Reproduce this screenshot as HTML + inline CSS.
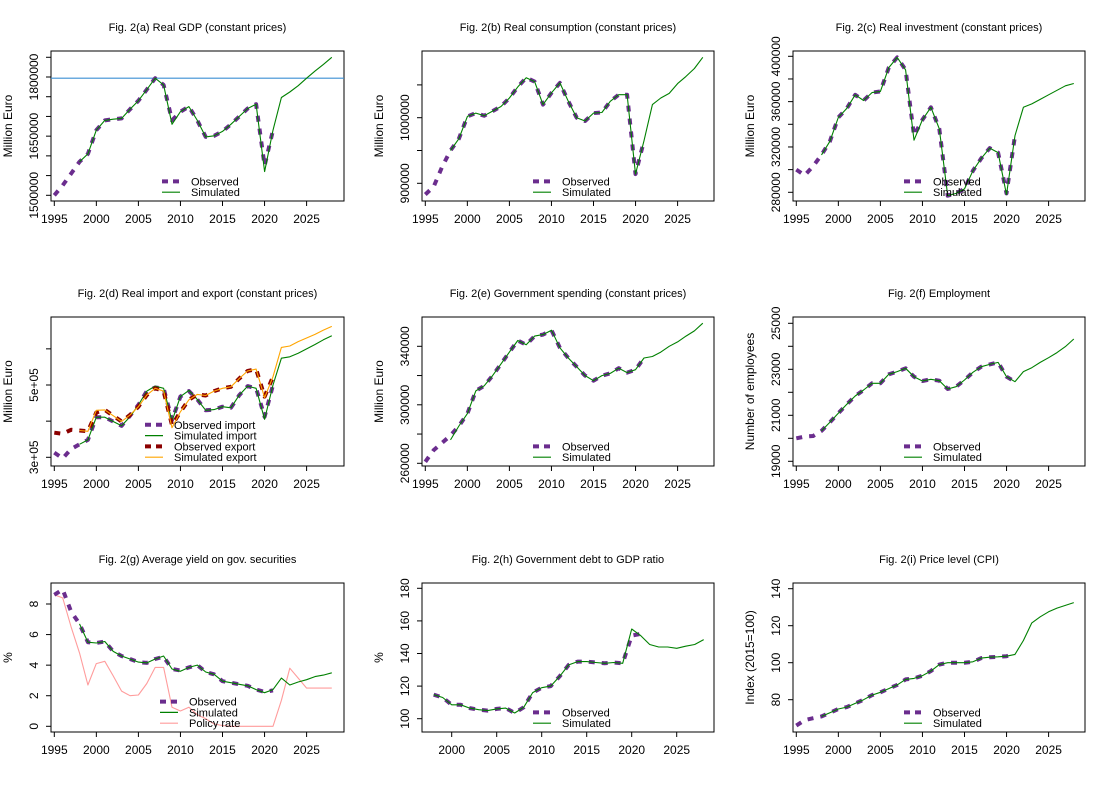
<!DOCTYPE html>
<html><head><meta charset="utf-8"><title>Fig. 2 panels</title>
<style>
html,body{margin:0;padding:0;background:#fff;}
svg{display:block;font-family:"Liberation Sans",Arial,sans-serif;}
</style></head>
<body>
<svg id="fig" width="1112" height="797" viewBox="0 0 1112 797" xmlns="http://www.w3.org/2000/svg"></svg>
<script>
// ---- data (thousands where noted) ----
const gdpObs=[1500,1525,1555,1585,1605,1665,1690,1693,1695,1718,1740,1768,1797,1780,1690,1712,1725,1690,1648,1651,1662,1680,1700,1720,1731,1575,1665];
const gdpSim=[1585,1605,1665,1690,1693,1695,1718,1740,1768,1797,1780,1680,1712,1725,1690,1648,1651,1662,1680,1700,1720,1731,1560,1665,1748,1762,1778,1797,1815,1832,1850];
const consObs=[883,895,925,950,968,1002,1007,1003,1010,1017,1030,1047,1061,1055,1020,1038,1053,1025,1000,995,1007,1008,1025,1035,1035,914,965];
const consSim=[950,968,1002,1007,1003,1010,1017,1030,1047,1061,1055,1020,1038,1053,1025,1000,995,1007,1008,1025,1035,1035,914,965,1020,1030,1037,1052,1063,1075,1092];
const invObs=[300,295,303,313,325,346,354,366,361,368,369,390,399,388,330,344,355,336,277,279,283,299,310,319,315,279,330];
const invSim=[313,325,346,354,366,361,368,369,390,399,388,326,344,355,336,277,279,283,299,310,319,315,278,330,355,358,362,366,370,374,376];
const impObs=[313,297,323,336,348,411,411,399,387,415,445,483,493,491,403,468,483,460,430,432,440,437,472,497,491,412,500];
const impSim=[336,348,411,411,399,387,412,445,483,497,491,400,468,485,460,430,432,440,437,472,497,491,405,500,574,578,588,600,612,625,636];
const expObs=[368,365,376,374,372,424,431,415,399,417,440,472,491,483,389,426,459,474,471,483,491,495,518,539,544,468,523];
const expSim=[374,372,430,431,415,399,417,440,472,491,483,382,426,459,474,471,483,491,495,518,539,544,465,523,604,608,620,630,640,652,662];
const govObs=[261,269,274,279,285.5,294,309.5,313,320,328,336,344,341,347,348,351,339,332,326,320,316.5,320,321.5,325,322,324,332];
const govSim=[276,285.5,294,309.5,313,320,328,336,344,341,347,348,351,339,332,326,320,316.5,320,321.5,325,322,324,332,333,336,340,343,347,350.5,355.8];
const empObs=[20000,20072,20100,20320,20695,21087,21478,21840,22100,22390,22390,22782,22898,23043,22680,22490,22565,22506,22144,22245,22535,22870,23115,23215,23300,22680,22460];
const empSim=[20320,20695,21087,21478,21840,22100,22390,22390,22782,22898,23043,22680,22490,22565,22506,22144,22245,22535,22870,23115,23215,23300,22680,22460,22900,23070,23300,23506,23724,23985,24318];
const yldObs=[8.6,8.95,7.5,6.7,5.5,5.45,5.55,4.9,4.6,4.4,4.2,4.15,4.4,4.55,3.75,3.65,3.85,4.0,3.55,3.4,2.95,2.85,2.75,2.65,2.4,2.25,2.35];
const yldSim=[6.7,5.5,5.45,5.55,4.9,4.6,4.4,4.2,4.15,4.4,4.6,3.75,3.6,3.85,4.0,3.55,3.4,2.95,2.85,2.75,2.65,2.4,2.2,2.4,3.15,2.7,2.9,3.05,3.25,3.35,3.5];
const policyRate=[8.6,8.4,6.5,4.8,2.7,4.1,4.25,3.3,2.3,2.0,2.05,2.8,3.85,3.85,1.25,1.0,1.25,0.75,0.5,0.15,0.05,0,0,0,0,0,0,1.7,3.8,3.15,2.5,2.5,2.5,2.5];
const debtObs=[114.7,113,108.5,108.5,106.5,105.5,105,106,106.5,103.5,107,116,119,120,126,133,135,135,134.5,134,134.5,134,151,152];
const debtSim=[114.7,113,108.5,108.5,106.5,105.5,105,106,106.5,103.5,107,116,119,120,126,133,135,135,134.5,134,134.5,134,155,151,145.5,144,144,143.2,144.5,145.5,148.5];
const cpiObs=[66,69,70,71,73,75,76,78,80,82.5,84,86,88,91,91.5,93,95.5,99,100,100,100,100.5,102.5,103,103.2,103.5,104.5];
const cpiSim=[71,73,75,76,78,80,82.5,84,86,88,91,91.5,93,95.5,99,100,100,100,100.5,102.5,103,103.2,103.5,104.5,112,121.5,124.8,127.5,129.5,131,132.5];
const xTicksStd=[1995,2000,2005,2010,2015,2020,2025];
const xTicksDebt=[2000,2005,2010,2015,2020,2025];
const gdpTicks=[1500,1550,1600,1650,1700,1750,1800,1850];
const gdpTickLabels=["1500000","","","1650000","","","1800000",""];
const gdpRefLine=[1797];
const consTicks=[900,950,1000,1050];
const consTickLabels=["900000","","1000000",""];
const invTicks=[280,300,320,340,360,380,400];
const invTickLabels=["280000","","320000","","360000","","400000"];
const tradeTicks=[300,400,500,600];
const tradeTickLabels=["3e+05","","5e+05",""];
const govTicks=[260,280,300,320,340];
const govTickLabels=["260000","","300000","","340000"];
const empTicks=[19000,20000,21000,22000,23000,24000,25000];
const empTickLabels=["19000","","21000","","23000","","25000"];
const yldTicks=[0,2,4,6,8];
const yldTickLabels=["0","2","4","6","8"];
const debtTicks=[100,120,140,160,180];
const debtTickLabels=["100","120","140","160","180"];
const cpiTicks=[80,100,120,140];
const cpiTickLabels=["80","100","120","140"];

const NS="http://www.w3.org/2000/svg";
const svg=document.getElementById('fig');
function mk(tag,attrs,parent){const e=document.createElementNS(NS,tag);for(const k in attrs)e.setAttribute(k,attrs[k]);(parent||svg).appendChild(e);return e;}
const COLS=[[51,344],[422,714],[793,1085]];
const ROWS=[[51,201],[317,466],[583,732]];
const PURPLE="#6b2d8e",GREEN="#008000",DRED="#8b0000",ORANGE="#ffa500",PINK="#ff9c9c";

function panel(p){
  const [L,R]=COLS[p.col],[T,B]=ROWS[p.row];
  const g=mk('g',{});
  
  
  const x0=p.xStart, xOff=p.xOff, xs=p.xStep;
  const X=yr=>L+xOff+(yr-x0)*xs;
  const [v0,p0,v1,p1]=p.anch;
  const Y=v=>p0+(v-v0)*(p1-p0)/(v1-v0);
  const t=mk('text',{x:(L+R)/2,y:T-20,'text-anchor':'middle','font-size':'11',fill:'#000'},g);
  t.textContent=p.title;
  
  
  const box=mk('rect',{x:L,y:T,width:R-L,height:B-T,fill:'none',stroke:'#000','stroke-width':1},g);
  
  
  const xa=mk('g',{},g);
  
  
  const xt=p.xTicks;
  mk('line',{x1:X(xt[0]),x2:X(xt[xt.length-1]),y1:B,y2:B,stroke:'#000'},xa);
  xt.forEach(v=>{
    mk('line',{x1:X(v),x2:X(v),y1:B,y2:B+5,stroke:'#000'},xa);
    const tl=mk('text',{x:X(v),y:B+22,'text-anchor':'middle','font-size':'12',fill:'#000'},xa);
    tl.textContent=String(v);
    
    
  });
  const ya=mk('g',{},g);
  
  
  const yt=p.yTicks;
  mk('line',{x1:L,x2:L,y1:Y(yt[0]),y2:Y(yt[yt.length-1]),stroke:'#000'},ya);
  yt.forEach((v,i)=>{
    mk('line',{x1:L-5,x2:L,y1:Y(v),y2:Y(v),stroke:'#000'},ya);
    if(p.yLabels[i]){
      const yl=mk('text',{x:0,y:0,'text-anchor':'middle','font-size':'12',fill:'#000',transform:`translate(${L-13},${Y(v)}) rotate(-90)`},ya);
      yl.textContent=p.yLabels[i];
      
      
    }
  });
  const yTitle=mk('text',{x:0,y:0,'text-anchor':'middle','font-size':'12',fill:'#000',transform:`translate(${L-39},${(T+B)/2}) rotate(-90)`},g);
  yTitle.textContent=p.yTitle;
  
  
  if(p.refLine){p.refLine.forEach(v=>{
    const rl=mk('line',{x1:L,x2:R,y1:Y(v),y2:Y(v),stroke:'#3b8fd4','stroke-width':1.2},g);
    
    
  });}
  p.series.forEach(s=>{
    const pts=s.data.map((v,i)=>X(s.start+i).toFixed(1)+','+Y(v).toFixed(1)).join(' ');
    const pl=mk('polyline',{points:pts,fill:'none',stroke:s.color,'stroke-width':s.dash?4:1.1,'stroke-dasharray':s.dash?'6 7':'none','stroke-linejoin':'round'},g);
    
    
  });
  const lg=mk('g',{},g);
  
  
  const lx=L+p.legX, n=p.legend.length;
  p.legend.forEach((e,i)=>{
    const ly=B-(n-i)*10.8-3+5;
    mk('line',{x1:lx,x2:lx+18,y1:ly,y2:ly,stroke:e.color,'stroke-width':e.dash?4:1.2,'stroke-dasharray':e.dash?'6 5':'none'},lg);
    const et=mk('text',{x:lx+29,y:ly+4,'font-size':'11',fill:'#000'},lg);
    et.textContent=e.label;
    
    
  });
}
const OS=[{label:"Observed",color:PURPLE,dash:true},{label:"Simulated",color:GREEN,dash:false}];
function std(name,title,col,row,anch,yTicks,yLabels,yTitle,obs,sim,extra){
  return Object.assign({name,title,col,row,anch,yTicks,yLabels,yTitle,xStart:1995,xOff:3.3,xStep:8.41,xTicks:xTicksStd,legX:111,legend:OS,
    series:[{name:'observed-line',data:obs,start:1995,color:PURPLE,dash:true},{name:'simulated-line',data:sim,start:1998,color:GREEN}]},extra||{});
}
panel(std('panel-a-real-gdp','Fig. 2(a) Real GDP (constant prices)',0,0,[1500,195.3,1800,77.0],gdpTicks,gdpTickLabels,'Million Euro',gdpObs,gdpSim,{refLine:gdpRefLine}));
panel(std('panel-b-consumption','Fig. 2(b) Real consumption (constant prices)',1,0,[900,183.3,1000,117.7],consTicks,consTickLabels,'Million Euro',consObs,consSim));
panel(std('panel-c-investment','Fig. 2(c) Real investment (constant prices)',2,0,[280,192.3,400,56.3],invTicks,invTickLabels,'Million Euro',invObs,invSim));
panel(std('panel-d-trade','Fig. 2(d) Real import and export (constant prices)',0,1,[300,457.3,500,385.0],tradeTicks,tradeTickLabels,'Million Euro',impObs,impSim,{
  legX:94,
  legend:[{label:"Observed import",color:PURPLE,dash:true},{label:"Simulated import",color:GREEN},{label:"Observed export",color:DRED,dash:true},{label:"Simulated export",color:ORANGE}],
  series:[{name:'observed-import-line',data:impObs,start:1995,color:PURPLE,dash:true},{name:'simulated-import-line',data:impSim,start:1998,color:GREEN},
          {name:'observed-export-line',data:expObs,start:1995,color:DRED,dash:true},{name:'simulated-export-line',data:expSim,start:1998,color:ORANGE}]}));
panel(std('panel-e-government-spending','Fig. 2(e) Government spending (constant prices)',1,1,[260,463.3,340,346.3],govTicks,govTickLabels,'Million Euro',govObs,govSim));
panel(std('panel-f-employment','Fig. 2(f) Employment',2,1,[19000,461.3,25000,323.3],empTicks,empTickLabels,'Number of employees',empObs,empSim));
panel(std('panel-g-yield','Fig. 2(g) Average yield on gov. securities',0,2,[0,726.3,8,604],yldTicks,yldTickLabels,'%',yldObs,yldSim,{
  legX:109,
  legend:[{label:"Observed",color:PURPLE,dash:true},{label:"Simulated",color:GREEN},{label:"Policy rate",color:PINK}],
  series:[{name:'policy-rate-line',data:policyRate,start:1995,color:PINK},{name:'observed-line',data:yldObs,start:1995,color:PURPLE,dash:true},{name:'simulated-line',data:yldSim,start:1998,color:GREEN}]}));
panel(std('panel-h-debt-ratio','Fig. 2(h) Government debt to GDP ratio',1,2,[100,718.7,180,588.3],debtTicks,debtTickLabels,'%',debtObs,debtSim,{
  xStart:1998,xOff:11.7,xStep:9.0,xTicks:xTicksDebt,
  series:[{name:'observed-line',data:debtObs,start:1998,color:PURPLE,dash:true},{name:'simulated-line',data:debtSim,start:1998,color:GREEN}]}));
panel(std('panel-i-price-level','Fig. 2(i) Price level (CPI)',2,2,[80,699.7,140,588.7],cpiTicks,cpiTickLabels,'Index (2015=100)',cpiObs,cpiSim));
</script>
</body></html>
